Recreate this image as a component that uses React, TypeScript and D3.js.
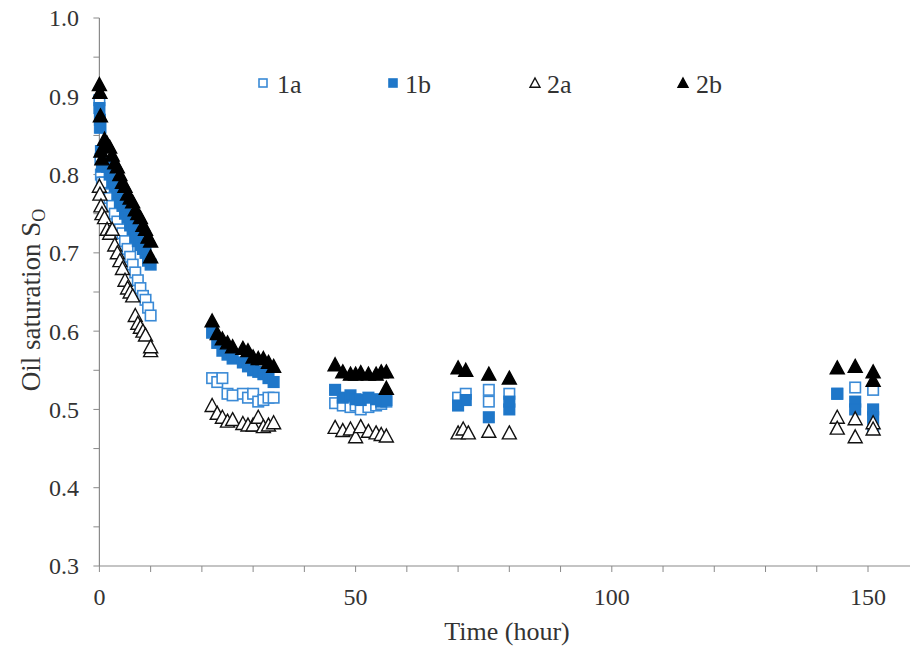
import React from "react";
import * as d3 from "d3";

// ---- data ----
const t1a = [0,0.1,0.2,0.3,0.5,1,1.5,2,2.5,3,3.5,4,4.5,5,5.5,6,6.5,7,7.5,8,8.5,9,9.5,10,
  22,23,24,25,26,28,29,30,31,32,33,34,
  46,47.5,49,50,51,52.5,54,55,56,
  70,71.5,76,76,80,
  144,147.5,151,151];
const s1a = [0.895,0.86,0.82,0.8,0.79,0.79,0.775,0.77,0.76,0.75,0.74,0.73,0.725,0.715,0.705,0.695,0.685,0.675,0.665,0.655,0.645,0.64,0.63,0.62,
  0.54,0.535,0.54,0.52,0.518,0.52,0.515,0.52,0.51,0.512,0.515,0.515,
  0.508,0.505,0.503,0.505,0.5,0.503,0.505,0.507,0.51,
  0.515,0.52,0.525,0.51,0.52,
  0.52,0.528,0.525,0.475];

const t1b = [0,0.1,0.2,0.3,0.5,1,1.5,2,2.5,3,3.5,4,4.5,5,5.5,6,6.5,7,7.5,8,8.5,9,9.5,10,
  22,23,24,25,26,28,29,30,31,32,33,34,
  46,47.5,49,50,51,52.5,54,55,56,
  70,71.5,76,80,80,
  144,147.5,147.5,151,151];
const s1b = [0.885,0.87,0.86,0.83,0.81,0.815,0.81,0.8,0.79,0.785,0.775,0.765,0.76,0.75,0.745,0.735,0.73,0.72,0.715,0.71,0.705,0.7,0.69,0.685,
  0.598,0.585,0.575,0.57,0.565,0.56,0.555,0.55,0.548,0.545,0.54,0.535,
  0.525,0.515,0.518,0.513,0.512,0.515,0.513,0.51,0.512,
  0.505,0.512,0.49,0.5,0.51,
  0.52,0.51,0.5,0.5,0.49];

const t2a = [0,0.1,0.3,0.5,1,1.5,2,2.5,3,3.5,4,4.5,5,5.5,6,6.5,7,7.5,8,8.5,9,10,10,
  22,23,24,25,26,28,29,30,31,32,33,34,
  46,47.5,49,50,51,52.5,54,55,56,
  70,71,72,76,80,
  144,144,147.5,147.5,151,151];
const s2a = [0.785,0.775,0.76,0.75,0.745,0.73,0.725,0.73,0.71,0.7,0.69,0.68,0.665,0.655,0.65,0.645,0.62,0.61,0.605,0.6,0.595,0.575,0.58,
  0.505,0.495,0.49,0.485,0.487,0.482,0.48,0.48,0.49,0.478,0.48,0.483,
  0.477,0.473,0.475,0.465,0.478,0.472,0.47,0.468,0.466,
  0.47,0.475,0.47,0.472,0.47,
  0.49,0.476,0.488,0.465,0.483,0.475];

const t2b = [0,0.1,0.2,0.3,0.5,1,1.5,2,2.5,3,3.5,4,4.5,5,5.5,6,6.5,7,7.5,8,8.5,9,9.5,10,10,
  22,23,24,25,26,28,29,30,31,32,33,34,
  46,47.5,49,50,51,52.5,54,55,56,56,
  70,71.5,76,80,
  144,147.5,151,151];
const s2b = [0.915,0.905,0.875,0.83,0.82,0.845,0.84,0.835,0.825,0.815,0.81,0.8,0.79,0.785,0.775,0.77,0.765,0.755,0.75,0.745,0.735,0.73,0.72,0.715,0.695,
  0.613,0.597,0.59,0.585,0.58,0.578,0.575,0.567,0.565,0.565,0.56,0.555,
  0.557,0.548,0.545,0.545,0.547,0.545,0.545,0.548,0.548,0.527,
  0.553,0.55,0.545,0.54,
  0.553,0.555,0.548,0.537];

const xMajor = [0, 50, 100, 150];
const yMajor = [0.3, 0.4, 0.5, 0.6, 0.7, 0.8, 0.9, 1.0];

const series = [
  { name: "1a", t: t1a, s: s1a, shape: "square", fill: "white", stroke: "#3a8ad6" },
  { name: "1b", t: t1b, s: s1b, shape: "square", fill: "#1f77c9", stroke: "#1f77c9" },
  { name: "2a", t: t2a, s: s2a, shape: "triangle", fill: "white", stroke: "#111" },
  { name: "2b", t: t2b, s: s2b, shape: "triangle", fill: "#000", stroke: "#000" },
];

const W = 910, H = 647;
const FONT = "Liberation Serif, Times New Roman, serif";

function Marker({ shape, x, y, fill, stroke, size }: any) {
  if (shape === "square") {
    const h = size / 2;
    return <rect x={x - h} y={y - h} width={size} height={size} fill={fill} stroke={stroke} strokeWidth={1.6} />;
  }
  const h = size * 0.5;
  const p = `M${x},${y - h} L${x + h},${y + h * 0.85} L${x - h},${y + h * 0.85} Z`;
  return <path d={p} fill={fill} stroke={stroke} strokeWidth={1.4} strokeLinejoin="miter" />;
}

export default function App() {
  const x = d3.scaleLinear().domain([0, 160]).range([99.4, 99.4 + 160 * 5.124]);
  const y = d3.scaleLinear().domain([0.3, 1.0]).range([566, 18]);
  const xMinor = d3.range(0, 161, 10);
  const yMinor = d3.range(0.3, 1.0001, 0.05);
  const axisColor = "#8a8a8a";
  const legend = [
    { s: series[0], mx: 263, tx: 277 },
    { s: series[1], mx: 393, tx: 405 },
    { s: series[2], mx: 535, tx: 547 },
    { s: series[3], mx: 683, tx: 696 },
  ];
  const txt = { fontFamily: FONT, fill: "#333" };
  return (
    <div style={{ position: "fixed", left: 0, top: 0 }}>
      <svg width={W} height={H} style={{ display: "block", background: "white", fontFamily: FONT }}>
        {/* axes */}
        <line x1={x(0)} x2={x(0)} y1={y(1.0)} y2={y(0.3)} stroke={axisColor} strokeWidth={1.2} />
        <line x1={x(0)} x2={W} y1={y(0.3)} y2={y(0.3)} stroke={axisColor} strokeWidth={1.2} />
        {yMinor.map((v, i) => (
          <line key={"yt" + i} x1={x(0) - 6} x2={x(0)} y1={y(v)} y2={y(v)} stroke={axisColor} strokeWidth={1} />
        ))}
        {xMinor.map((v, i) => (
          <line key={"xt" + i} x1={x(v)} x2={x(v)} y1={y(0.3)} y2={y(0.3) + 6} stroke={axisColor} strokeWidth={1} />
        ))}
        {yMajor.map((v) => (
          <text key={"yl" + v} x={79} y={y(v)} dy="0.35em" textAnchor="end" style={{ ...txt, fontSize: 24 }}>
            {v.toFixed(1)}
          </text>
        ))}
        {xMajor.map((v) => (
          <text key={"xl" + v} x={x(v)} y={605} textAnchor="middle" style={{ ...txt, fontSize: 24 }}>
            {v}
          </text>
        ))}
        <text x={507} y={640} textAnchor="middle" style={{ ...txt, fontSize: 26 }}>Time (hour)</text>
        <text transform="translate(40,300) rotate(-90)" textAnchor="middle" style={{ ...txt, fontSize: 27 }}>
          Oil saturation S<tspan style={{ fontSize: 18 }} dy="5">O</tspan>
        </text>
        {/* data */}
        {series.map((ser) => (
          <g key={ser.name}>
            {ser.t.map((t, i) => (
              <Marker key={i} shape={ser.shape} x={x(t)} y={y(ser.s[i])} fill={ser.fill} stroke={ser.stroke} size={ser.shape === "square" ? 10.5 : 14} />
            ))}
          </g>
        ))}
        {/* legend */}
        {legend.map((l) => (
          <g key={"lg" + l.s.name}>
            <Marker shape={l.s.shape} x={l.mx} y={83} fill={l.s.fill} stroke={l.s.stroke} size={l.s.shape === "square" ? 8 : 10} />
            <text x={l.tx} y={84} dy="0.35em" style={{ ...txt, fontSize: 26 }}>{l.s.name}</text>
          </g>
        ))}
      </svg>
    </div>
  );
}
